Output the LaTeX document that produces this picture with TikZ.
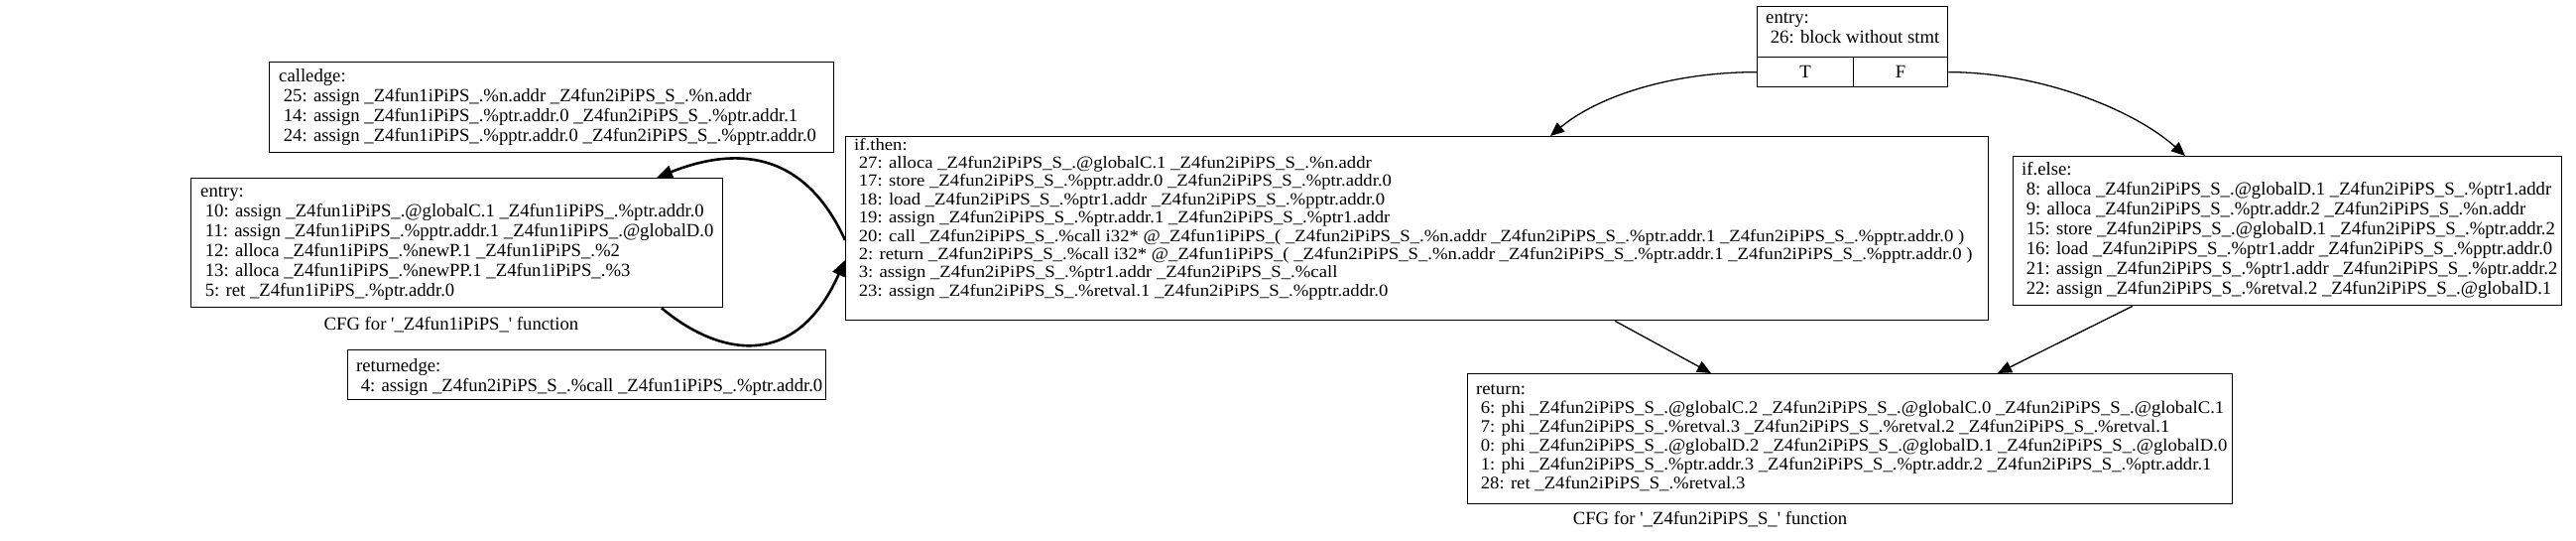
\documentclass[tikz,border=0pt]{standalone}
\usepackage{fontspec}
\setmainfont{Liberation Serif}[Ligatures=TeXOff]
\usepackage{graphicx}
\usetikzlibrary{arrows.meta}
\newcommand\blk[2]{\scalebox{1}[#1]{\begin{tabular}{@{}l@{}}#2\end{tabular}}}
\newcommand\fnA{\_Z4fun1iPiPS\_.}
\newcommand\fnB{\_Z4fun2iPiPS\_S\_.}
\begin{document}
\begin{tikzpicture}[x=1pt,y=-1pt,
  box/.style={draw, line width=1.3pt, inner sep=0pt, anchor=north west},
  txt/.style={anchor=west, inner sep=0pt, font=\fontsize{18.7}{20}\selectfont},
  cell/.style={box, font=\fontsize{18.7}{20}\selectfont},
  edge/.style={line width=1.3pt, -{Triangle[length=14pt,width=12pt]}},
  boldedge/.style={line width=2.6pt, -{Triangle[length=16pt,width=13pt]}},
  lbl/.style={inner sep=0pt, font=\fontsize{18.7}{20}\selectfont}]
\useasboundingbox (0,0) rectangle (2597,544);

% ---- function 1 ----
\node[box, minimum width=569pt, minimum height=91pt] (calledge) at (271,62) {};
\node[txt] (calledgeT) at (281,108) {\blk{1}{calledge:\\
\ 25: assign \fnA\%n.addr \fnB\%n.addr\\
\ 14: assign \fnA\%ptr.addr.0 \fnB\%ptr.addr.1\\
\ 24: assign \fnA\%pptr.addr.0 \fnB\%pptr.addr.0}};

\node[box, minimum width=536pt, minimum height=130pt] (entryL) at (192,179) {};
\node[txt] (entryLT) at (202,244) {\blk{1}{entry:\\
\ 10: assign \fnA@globalC.1 \fnA\%ptr.addr.0\\
\ 11: assign \fnA\%pptr.addr.1 \fnA@globalD.0\\
\ 12: alloca \fnA\%newP.1 \fnA\%2\\
\ 13: alloca \fnA\%newPP.1 \fnA\%3\\
\ 5: ret \fnA\%ptr.addr.0}};

\node[lbl] (cfg1) at (455,327) {CFG for '\_Z4fun1iPiPS\_' function};

\node[box, minimum width=482pt, minimum height=50pt] (retedge) at (350,352) {};
\node[txt] (retedgeT) at (359,380) {\blk{1}{returnedge:\\
\ 4: assign \fnB\%call \fnA\%ptr.addr.0}};

% ---- function 2 ----
\node[box, minimum width=192pt, minimum height=51pt] (entryR) at (1771,6) {};
\node[txt] (entryRT) at (1780,29) {\blk{1}{entry:\\
\ 26: block without stmt}};
\node[cell, minimum width=97pt, minimum height=30pt] (T) at (1771,57) {T};
\node[cell, minimum width=95pt, minimum height=30pt] (F) at (1868,57) {F};

\node[box, minimum width=1152pt, minimum height=185pt] (ifthen) at (852,137) {};
\node[txt] (ifthenT) at (861,221) {\blk{0.92}{if.then:\\
\ 27: alloca \fnB@globalC.1 \fnB\%n.addr\\
\ 17: store \fnB\%pptr.addr.0 \fnB\%ptr.addr.0\\
\ 18: load \fnB\%ptr1.addr \fnB\%pptr.addr.0\\
\ 19: assign \fnB\%ptr.addr.1 \fnB\%ptr1.addr\\
\ 20: call \fnB\%call i32* @\_Z4fun1iPiPS\_( \fnB\%n.addr \fnB\%ptr.addr.1 \fnB\%pptr.addr.0 )\\
\ 2: return \fnB\%call i32* @\_Z4fun1iPiPS\_( \fnB\%n.addr \fnB\%ptr.addr.1 \fnB\%pptr.addr.0 )\\
\ 3: assign \fnB\%ptr1.addr \fnB\%call\\
\ 23: assign \fnB\%retval.1 \fnB\%pptr.addr.0}};

\node[box, minimum width=553pt, minimum height=150pt] (ifelse) at (2029,157) {};
\node[txt] (ifelseT) at (2038,232) {\blk{1}{if.else:\\
\ 8: alloca \fnB@globalD.1 \fnB\%ptr1.addr\\
\ 9: alloca \fnB\%ptr.addr.2 \fnB\%n.addr\\
\ 15: store \fnB@globalD.1 \fnB\%ptr.addr.2\\
\ 16: load \fnB\%ptr1.addr \fnB\%pptr.addr.0\\
\ 21: assign \fnB\%ptr1.addr \fnB\%ptr.addr.2\\
\ 22: assign \fnB\%retval.2 \fnB@globalD.1}};

\node[box, minimum width=771pt, minimum height=131pt] (ret) at (1479,376) {};
\node[txt] (retT) at (1488,441) {\blk{0.95}{return:\\
\ 6: phi \fnB@globalC.2 \fnB@globalC.0 \fnB@globalC.1\\
\ 7: phi \fnB\%retval.3 \fnB\%retval.2 \fnB\%retval.1\\
\ 0: phi \fnB@globalD.2 \fnB@globalD.1 \fnB@globalD.0\\
\ 1: phi \fnB\%ptr.addr.3 \fnB\%ptr.addr.2 \fnB\%ptr.addr.1\\
\ 28: ret \fnB\%retval.3}};

\node[lbl] (cfg2) at (1724,523) {CFG for '\_Z4fun2iPiPS\_S\_' function};

% ---- edges ----
\draw[edge] (T.west) .. controls +(-90,0) and +(45,-38) .. (ifthen.north -| 1563,0);
\draw[edge] (F.east) .. controls +(95,0) and +(-50,-45) .. (ifelse.north -| 2203,0);
\draw[edge] (ifthen.south -| 1628,0) -- (ret.north -| 1725,0);
\draw[edge] (ifelse.south -| 2150,0) -- (ret.north -| 2014,0);
\draw[boldedge] (ifthen.west |- 0,242) .. controls (810,150) and (740,148) .. (entryL.north -| 662,0);
\draw[boldedge] (entryL.south -| 667,0) .. controls (720,355) and (800,378) .. (ifthen.west |- 0,262);
\end{tikzpicture}
\end{document}
